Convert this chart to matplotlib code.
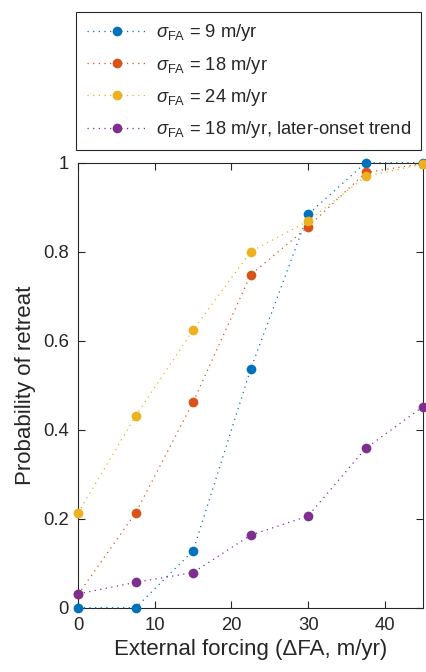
import matplotlib
matplotlib.use("Agg")
import matplotlib.pyplot as plt
from matplotlib.ticker import FuncFormatter

plt.rcParams['font.family'] = ['Liberation Sans', 'DejaVu Sans']
plt.rcParams['mathtext.fontset'] = 'custom'
plt.rcParams['mathtext.rm'] = 'Liberation Sans'
plt.rcParams['mathtext.it'] = 'Liberation Sans:italic'
plt.rcParams['mathtext.sf'] = 'Liberation Sans'

forcing = [0, 7.5, 15, 22.5, 30, 37.5, 45]
p_sigma9 = [0.0, 0.0, 0.128, 0.536, 0.884, 1.0, 1.0]
p_sigma18 = [0.03, 0.213, 0.462, 0.748, 0.856, 0.978, 0.998]
p_sigma24 = [0.213, 0.431, 0.624, 0.80, 0.869, 0.969, 0.997]
p_sigma18_late = [0.031, 0.057, 0.079, 0.163, 0.206, 0.358, 0.452]

labels = [r'$\sigma_{\rm FA}$ = 9 m/yr',
          r'$\sigma_{\rm FA}$ = 18 m/yr',
          r'$\sigma_{\rm FA}$ = 24 m/yr',
          r'$\sigma_{\rm FA}$ = 18 m/yr, later-onset trend']
colors = ['#0072BD', '#D95319', '#EDB120', '#7E2F8E']
series = [p_sigma9, p_sigma18, p_sigma24, p_sigma18_late]

fig = plt.figure(figsize=(4.27, 6.72), dpi=100)
ax = fig.add_axes([0.183, 0.0957, 0.808, 0.6622])

handles = []
for ys, c, lab in zip(series, colors, labels):
    h, = ax.plot(forcing, ys, linestyle=(0, (1, 3.5)), color=c, lw=0.9, marker='o',
                 markersize=7, markeredgewidth=0, label=lab, clip_on=False, zorder=3)
    handles.append(h)

ax.set_xlim(0, 45)
ax.set_ylim(0, 1)
ax.set_xticks([0, 10, 20, 30, 40])
ax.set_yticks([0, 0.2, 0.4, 0.6, 0.8, 1.0])
ax.yaxis.set_major_formatter(FuncFormatter(lambda v, p: '%g' % v))
dark = '#262626'
for s in ax.spines.values():
    s.set_color(dark)
    s.set_linewidth(0.8)
ax.tick_params(direction='in', top=True, right=True, length=5, width=0.8,
               colors=dark, labelsize=13.3, pad=6.5)
ax.set_xlabel('External forcing (ΔFA, m/yr)', fontsize=16, color=dark, labelpad=4)
ax.set_ylabel('Probability of retreat', fontsize=16, color=dark, labelpad=5)

leg = fig.legend(handles=handles, loc='upper left', bbox_to_anchor=(0.179, 0.982),
                 bbox_transform=fig.transFigure, borderaxespad=0, fontsize=13.2,
                 frameon=True, fancybox=False, framealpha=1, edgecolor=dark,
                 handlelength=3.3, handletextpad=0.5, labelspacing=0.62,
                 borderpad=0.55, numpoints=1)
leg.get_frame().set_linewidth(0.8)
for t in leg.get_texts():
    t.set_color(dark)

fig.savefig('out.png', dpi=100)
